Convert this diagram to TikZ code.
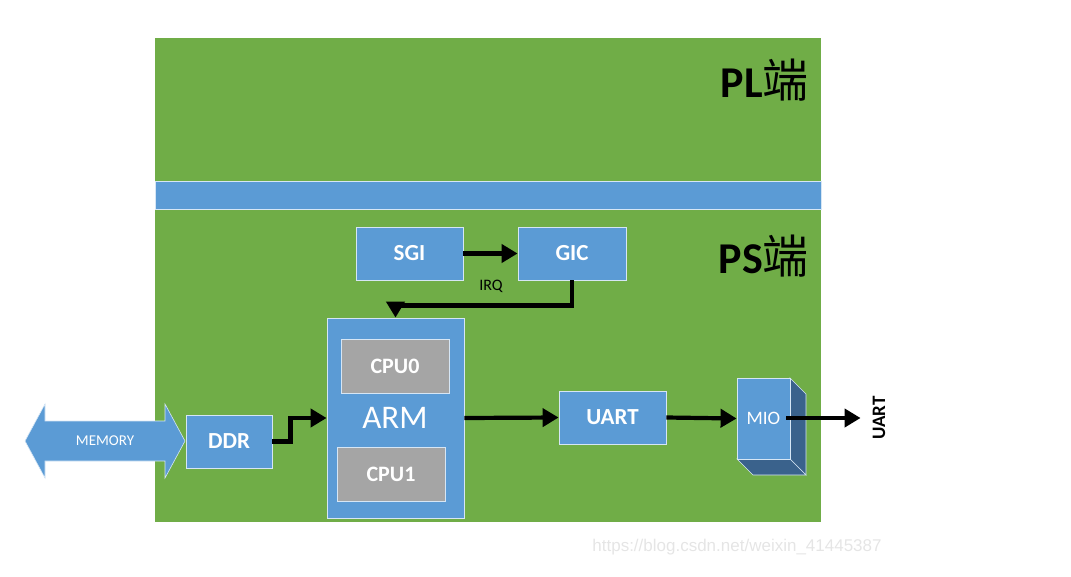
\documentclass[tikz,border=0pt]{standalone}
\usepackage{fontspec}
\setmainfont{Carlito}
\newfontfamily\cjk{Noto Sans CJK SC}
\newfontfamily\wm{Liberation Sans}
\usetikzlibrary{arrows.meta}
\definecolor{pgreen}{HTML}{70AD47}
\definecolor{pblue}{HTML}{5B9BD5}
\definecolor{pgray}{HTML}{A5A5A5}
\definecolor{pdark}{HTML}{3A628C}
\definecolor{pedge}{HTML}{D6E6F5}
\tikzset{
  box/.style={draw=pedge, line width=0.8pt, fill=pblue, text=white, inner sep=0pt, font=\bfseries\fontsize{23}{23}\selectfont},
  cpubox/.style={draw=pedge, line width=0.8pt, fill=pgray, text=white, inner sep=0pt, font=\bfseries\fontsize{22}{22}\selectfont},
  arr/.style={line width=4.2pt, draw=black, -{Triangle[length=16pt,width=18pt]}},
  title/.style={font=\bfseries\fontsize{44}{44}\selectfont, anchor=east, inner sep=0pt}
}
\begin{document}
\begin{tikzpicture}[x=1pt,y=-1pt]
\useasboundingbox (0,0) rectangle (1071,576);
% background areas
\fill[pgreen] (155,38) rectangle (821,522);
\draw[pedge, line width=0.8pt, fill=pblue] (155,181) rectangle (821,209);
% titles
\node[title] (pl) at (809,80) {PL{\cjk\mdseries\fontsize{46}{46}\selectfont 端}};
\node[title] (ps) at (809,256) {PS{\cjk\mdseries\fontsize{46}{46}\selectfont 端}};
% boxes
\node[box, minimum width=107pt, minimum height=53pt] (sgi) at (409.5,253.5) {SGI};
\node[box, minimum width=108pt, minimum height=53pt] (gic) at (572,253.5) {GIC};
\node[box, minimum width=137pt, minimum height=200pt] (arm) at (395.5,418) {};
\node[text=white, inner sep=0pt, font=\fontsize{33}{33}\selectfont] (armlbl) at (395,418) {ARM};
\node[cpubox, minimum width=108pt, minimum height=54pt] (cpu0) at (395,366) {CPU0};
\node[cpubox, minimum width=108pt, minimum height=54pt] (cpu1) at (391,474) {CPU1};
\node[box, minimum width=86pt, minimum height=53pt] (ddr) at (229,441.5) {DDR};
\node[box, minimum width=107pt, minimum height=53pt] (uart) at (612.5,417.5) {UART};
% MEMORY double arrow
\draw[pedge, line width=0.6pt, fill=pblue] (25,441) -- (45,404) -- (45,421) -- (165,421) -- (165,404) -- (185,441) -- (165,478) -- (165,461) -- (45,461) -- (45,478) -- cycle;
\node[text=white, inner sep=0pt, font=\fontsize{15}{15}\selectfont] (mem) at (105,441) {MEMORY};
% MIO 3D box
\draw[pedge, line width=0.6pt, fill=pdark] (790,378) -- (806,394) -- (806,475) -- (790,459) -- cycle;
\draw[pedge, line width=0.6pt, fill=pdark] (737,459) -- (790,459) -- (806,475) -- (753,475) -- cycle;
\node[draw=pedge, line width=0.8pt, fill=pblue, text=white, inner sep=0pt, minimum width=53pt, minimum height=81pt, font=\fontsize{19}{19}\selectfont] (mio) at (763.5,418.5) {MIO};
% labels
\node[inner sep=0pt, font=\fontsize{16}{16}\selectfont] (irq) at (491,286) {IRQ};
\node[inner sep=0pt, rotate=90, font=\bfseries\fontsize{19}{19}\selectfont] (uartout) at (879,418) {UART};
\coordinate (mioout) at (786,418);
% connectors
\draw[arr] (sgi) -- (gic);
\draw[arr] (gic.south) -- ++(0,25) -| (arm.north);
\draw[arr] (ddr.east) -- ++(18,0) |- (arm.west);
\draw[arr] (arm.east) -- (uart.west);
\draw[arr] (uart.east) -- (mio.west);
\draw[arr] (mioout) -- ([xshift=-12pt]uartout.north);
% watermark
\node[inner sep=0pt, text=black!10, font=\wm\fontsize{17}{17}\selectfont] (wmark) at (737,547) {https://blog.csdn.net/weixin\_41445387};
\end{tikzpicture}
\end{document}
